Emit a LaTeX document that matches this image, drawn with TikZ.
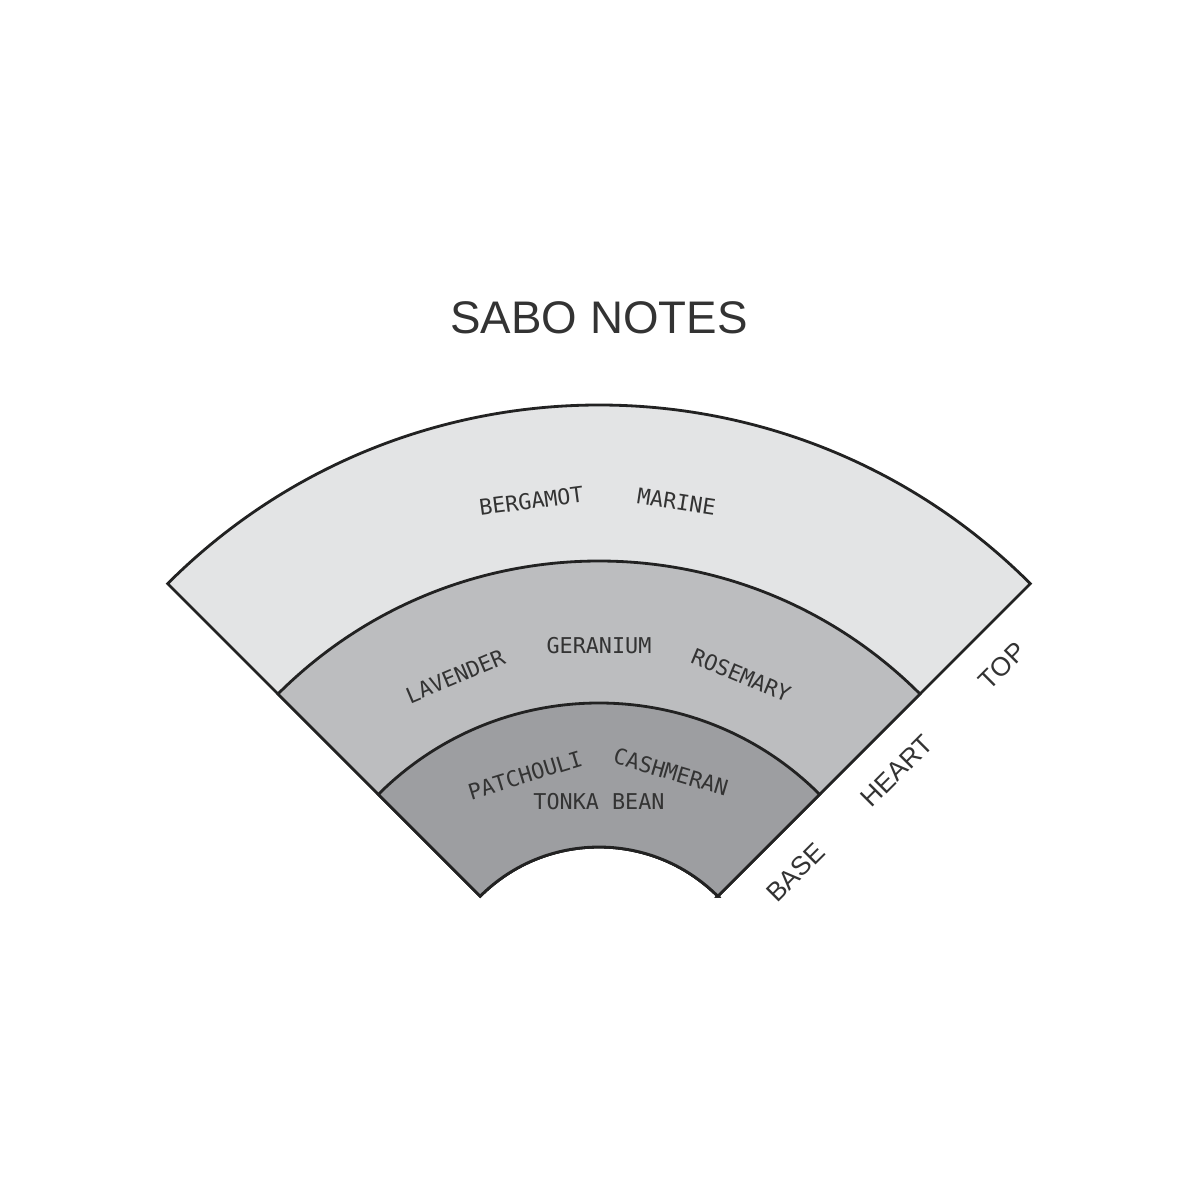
\documentclass[tikz,border=0pt]{standalone}
\usepackage{fontspec}
\setmainfont{Liberation Sans}
\newfontfamily\notefont{DejaVu Sans Mono}
\usetikzlibrary{calc}
\definecolor{topgrey}{HTML}{E3E4E5}
\definecolor{heartgrey}{HTML}{BCBDBF}
\definecolor{basegrey}{HTML}{9D9EA1}
\definecolor{ink}{HTML}{333333}
\definecolor{rim}{HTML}{222222}
\begin{document}
\begin{tikzpicture}[band/.style={draw=rim, line width=.8pt},
  note/.style={text=ink, font=\notefont\fontsize{6.2}{7}\selectfont, inner sep=0pt},
  layer/.style={text=ink, font=\fontsize{7.5}{9}\selectfont, inner sep=0pt, rotate=45}]
\useasboundingbox (-5.99,-1.85) rectangle (6.01,10.15);
\node[text=ink, font=\fontsize{13}{16}\selectfont] (title) at (0,6.97) {SABO NOTES};
% bands, outer one first
\foreach \r/\c in {6.10/topgrey, 4.54/heartgrey, 3.12/basegrey}
  \filldraw[band, fill=\c] (45:1.68)--(45:\r) arc(45:135:\r)--(135:1.68) arc(135:45:1.68)--cycle;
% top notes
\node[note, rotate=7.5] (bergamot) at (97.5:5.185) {BERGAMOT};
\node[note, rotate=-8.6] (marine) at (81.4:5.19) {MARINE};
% heart notes
\node[note, rotate=23] (lavender) at (113:3.68) {LAVENDER};
\node[note] (geranium) at (90:3.69) {GERANIUM};
\node[note, rotate=-22.7] (rosemary) at (67.3:3.685) {ROSEMARY};
% base notes
\node[note, rotate=17.1] (patchouli) at (107.1:2.51) {PATCHOULI};
\node[note, rotate=-16.5] (cashmeran) at (73.5:2.534) {CASHMERAN};
\node[note] (tonka) at (90:2.13) {TONKA BEAN};
% layer names
\node[layer] (top) at ($(45:5.32)+(-45:.38)$) {TOP};
\node[layer] (heart) at ($(45:3.83)+(-45:.38)$) {HEART};
\node[layer] (base) at ($(45:2.40)+(-45:.38)$) {BASE};
\end{tikzpicture}
\end{document}
